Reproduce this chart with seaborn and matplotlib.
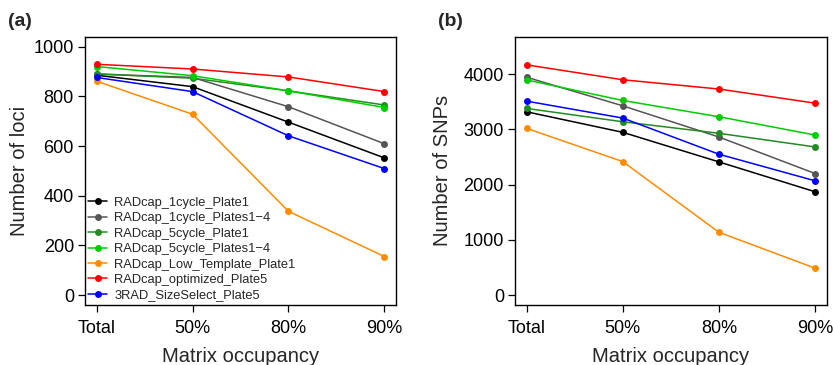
import matplotlib
matplotlib.use("Agg")
import matplotlib.pyplot as plt
import seaborn as sns
import pandas as pd

occupancy = ["Total", "50%", "80%", "90%"]
libraries = ["RADcap_1cycle_Plate1", "RADcap_1cycle_Plates1\u22124", "RADcap_5cycle_Plate1",
             "RADcap_5cycle_Plates1\u22124", "RADcap_Low_Template_Plate1",
             "RADcap_optimized_Plate5", "3RAD_SizeSelect_Plate5"]
colors = ["#000000", "#555555", "#228B22", "#00CD00", "#FF8C00", "#FF0000", "#0000FF"]

loci_1cycle_p1 = [885, 839, 696, 552]
loci_1cycle_p14 = [890, 876, 758, 609]
loci_5cycle_p1 = [890, 873, 822, 765]
loci_5cycle_p14 = [920, 883, 822, 755]
loci_lowtemp = [861, 728, 337, 155]
loci_optimized = [929, 910, 878, 819]
loci_3rad = [876, 819, 641, 509]

snp_1cycle_p1 = [3320, 2948, 2412, 1871]
snp_1cycle_p14 = [3946, 3428, 2863, 2201]
snp_5cycle_p1 = [3381, 3139, 2930, 2683]
snp_5cycle_p14 = [3897, 3525, 3230, 2899]
snp_lowtemp = [3020, 2418, 1137, 487]
snp_optimized = [4170, 3900, 3732, 3476]
snp_3rad = [3513, 3206, 2551, 2069]

loci = [loci_1cycle_p1, loci_1cycle_p14, loci_5cycle_p1, loci_5cycle_p14,
        loci_lowtemp, loci_optimized, loci_3rad]
snps = [snp_1cycle_p1, snp_1cycle_p14, snp_5cycle_p1, snp_5cycle_p14,
        snp_lowtemp, snp_optimized, snp_3rad]


def long_df(series):
    rows = []
    for lib, vals in zip(libraries, series):
        for i, (occ, v) in enumerate(zip(occupancy, vals)):
            rows.append({"library": lib, "pos": i, "occupancy": occ, "value": v})
    return pd.DataFrame(rows)


sns.set_theme(style="ticks")
plt.rcParams["font.family"] = ["Liberation Sans", "DejaVu Sans"]

fig = plt.figure(figsize=(8.33, 3.65), dpi=100)
ax_a = fig.add_axes([85 / 833, 60 / 365, (396 - 85) / 833, (305 - 36.7) / 365])
ax_b = fig.add_axes([515 / 833, 60 / 365, (826.7 - 515) / 833, (305 - 36.7) / 365])

palette = dict(zip(libraries, colors))

for ax, series, ylabel, ymax, yticks, label, ylab_x in [
    (ax_a, loci, "Number of loci", 1000, [0, 200, 400, 600, 800, 1000], "(a)", -0.18),
    (ax_b, snps, "Number of SNPs", 4500, [0, 1000, 2000, 3000, 4000], "(b)", -0.203),
]:
    df = long_df(series)
    sns.lineplot(data=df, x="pos", y="value", hue="library", hue_order=libraries,
                 palette=palette, marker="o", markersize=5, markeredgewidth=0,
                 linewidth=1.1, sort=False, ax=ax, legend=(ax is ax_a))
    pad = 0.04 * ymax
    ax.set_ylim(-pad, ymax + pad)
    ax.set_xlim(-0.12, 3.12)
    ax.set_xticks(range(4))
    ax.set_xticklabels(occupancy)
    ax.set_yticks(yticks)
    ax.tick_params(axis="both", direction="out", length=5, width=0.9,
                   labelsize=13, colors="black", pad=3)
    ax.tick_params(axis="x", pad=6)
    ax.set_xlabel("Matrix occupancy", fontsize=14.5, labelpad=7)
    ax.set_ylabel(ylabel, fontsize=14.5)
    ax.yaxis.set_label_coords(ylab_x, 0.5)
    for s in ax.spines.values():
        s.set_visible(True)
        s.set_linewidth(1.0)
        s.set_color("black")
    fig.text(ax.get_position().x0 - 77 / 833, 0.94, label, fontsize=14,
             fontweight="bold", ha="left", va="center")

leg = ax_a.legend(loc="lower left", bbox_to_anchor=(-0.02, -0.02), frameon=False,
                  fontsize=9.3, handlelength=1.5, handletextpad=0.55,
                  labelspacing=0.26, borderaxespad=0.3)
for h in leg.legend_handles:
    h.set_linewidth(1.1)
    h.set_markersize(5)

fig.savefig("out.png", dpi=100)
